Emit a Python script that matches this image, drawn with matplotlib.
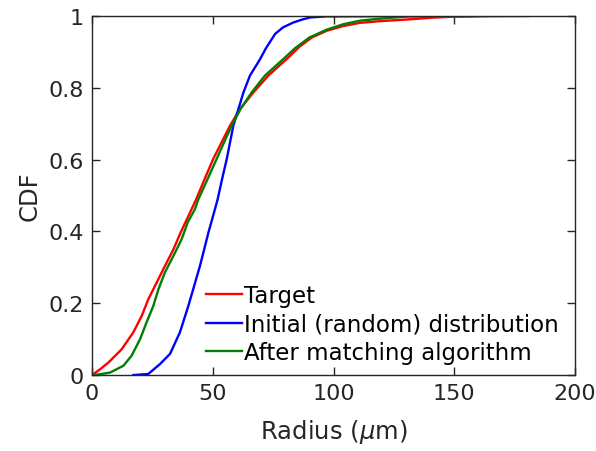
import numpy as np
import matplotlib
matplotlib.use("Agg")
import matplotlib.pyplot as plt
import matplotlib.ticker as ticker

# CDF curves (radius in um, cumulative fraction)
target_r = [0, 3.5, 6.8, 12.3, 17.1, 20.6, 23.3, 26.8, 30.2, 33.7, 36.7, 39.9, 43.1,
            46.7, 50.2, 53.8, 57.1, 61.3, 66.8, 73, 80.6, 86, 91, 97.2, 104, 111, 120,
            130, 140, 149, 165, 181]
target_cdf = [0, 0.017, 0.035, 0.072, 0.119, 0.165, 0.211, 0.258, 0.304, 0.35, 0.397,
              0.443, 0.489, 0.547, 0.602, 0.65, 0.694, 0.741, 0.787, 0.834, 0.88, 0.915,
              0.94, 0.959, 0.972, 0.981, 0.986, 0.99, 0.995, 0.998, 0.9995, 1]

initial_r = [17.1, 23.3, 28.2, 32.3, 36.4, 39.9, 44.7, 48.2, 50.9, 52, 54, 55.8, 58.5,
             62.7, 65.4, 69.6, 72, 75.8, 79, 83.4, 87, 90.3, 97.2, 137]
initial_cdf = [0, 0.003, 0.031, 0.059, 0.119, 0.193, 0.304, 0.397, 0.462, 0.489, 0.55,
               0.602, 0.694, 0.787, 0.834, 0.88, 0.91, 0.95, 0.968, 0.982, 0.99, 0.996,
               0.999, 1]

matched_r = [0, 3, 7.5, 13, 16.4, 19.9, 22.6, 25.4, 27.5, 30.2, 33.7, 37.1, 39.6, 42.6,
             44, 47.8, 51.6, 54.8, 57.8, 61.5, 66.1, 71.6, 79.2, 84, 90, 97.2, 104, 111,
             120, 131.7, 159]
matched_cdf = [0, 0.002, 0.007, 0.026, 0.054, 0.1, 0.147, 0.193, 0.239, 0.286, 0.332,
               0.378, 0.425, 0.462, 0.489, 0.545, 0.602, 0.65, 0.694, 0.741, 0.787, 0.834,
               0.88, 0.91, 0.94, 0.962, 0.977, 0.987, 0.993, 0.999, 1]

labels = ['Target', 'Initial (random) distribution', 'After matching algorithm']

dark = '#262626'

fig = plt.figure(figsize=(5.96, 4.52), dpi=100)
ax = fig.add_axes([0.1544, 0.168, 0.8104, 0.7944])

ax.plot(target_r, target_cdf, color='red', lw=1.7, label=labels[0])
ax.plot(initial_r, initial_cdf, color='blue', lw=1.7, label=labels[1])
ax.plot(matched_r, matched_cdf, color='green', lw=1.7, label=labels[2])

ax.set_xlim(0, 200)
ax.set_ylim(0, 1)
ax.set_xticks([0, 50, 100, 150, 200])
ax.set_yticks([0, 0.2, 0.4, 0.6, 0.8, 1])
ax.yaxis.set_major_formatter(ticker.FuncFormatter(lambda v, p: '%g' % v))

ax.tick_params(direction='in', length=6, width=1, colors=dark, labelsize=16,
               top=True, right=True, pad=6)
for s in ax.spines.values():
    s.set_color(dark)
    s.set_linewidth(1)

ax.set_xlabel('Radius ($\\mu$m)', fontsize=17.5, color=dark, labelpad=10)
ax.set_ylabel('CDF', fontsize=17.5, color=dark, labelpad=5)

ax.legend(loc='upper left', bbox_to_anchor=(0.217, 0.279), frameon=False, fontsize=16.5,
          handlelength=1.55, handletextpad=0.1, labelspacing=0.24, borderaxespad=0)

fig.savefig('out.png', dpi=100)
